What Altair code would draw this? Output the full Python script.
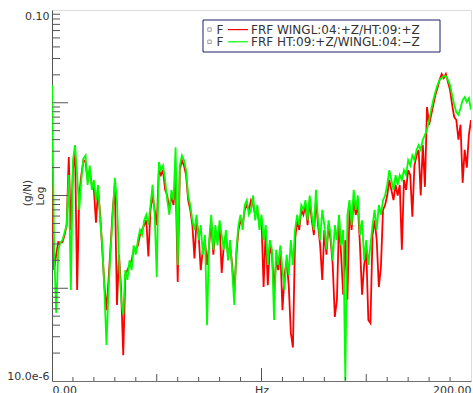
import altair as alt
import pandas as pd

# Frequency axis (Hz), 1 Hz resolution
freq_hz = list(range(0, 201))

# FRF magnitude (g/N): WINGL:04:+Z / HT:09:+Z
frf_wingl_ht = [
    1.3e-3, 1.57e-4, 2.3e-4, 3.15e-4, 3.1e-4, 3.15e-4, 3.75e-4, 4.8e-4, 2.6e-3, 4.25e-4,
    1.88e-3, 3.1e-3, 9.6e-5, 1.0e-3, 1.66e-3, 2.4e-3, 2.3e-3, 1.47e-3, 1.88e-3, 1.3e-3,
    1.15e-3, 5.1e-4, 1.15e-3, 6.2e-4, 2.6e-4, 1.08e-4, 5.8e-5, 1.23e-4, 2.9e-4, 7.0e-4,
    1.3e-3, 6.6e-5, 2.3e-4, 9.6e-5, 1.9e-5, 1.39e-4, 1.57e-4, 1.78e-4, 2.0e-4, 2.6e-4,
    2.6e-4, 2.9e-4, 3.75e-4, 4.25e-4, 4.8e-4, 5.4e-4, 2.2e-4, 7.0e-4, 1.0e-3, 7.0e-4,
    4.8e-4, 1.88e-3, 1.66e-3, 1.88e-3, 1.15e-3, 1.0e-3, 7.0e-4, 1.0e-3, 7.9e-4, 1.66e-3,
    1.17e-4, 1.88e-3, 2.4e-3, 2.1e-3, 1.66e-3, 8.9e-4, 7.0e-4, 4.8e-4, 2.1e-4, 5.4e-4,
    3.75e-4, 1.57e-4, 2.6e-4, 3.3e-4, 1.78e-4, 2.9e-4, 5.4e-4, 2.3e-4, 4.25e-4, 3.3e-4,
    4.8e-4, 1.46e-4, 2.9e-4, 3.75e-4, 2.3e-4, 2.9e-4, 1.78e-4, 8.9e-5, 2.3e-4, 4.25e-4,
    5.4e-4, 4.8e-4, 7.0e-4, 7.9e-4, 7.0e-4, 8.9e-4, 7.9e-4, 6.2e-4, 7.0e-4, 4.8e-4,
    5.4e-4, 1.03e-4, 4.25e-4, 1.08e-4, 2.9e-4, 2.3e-4, 9.6e-5, 2.0e-4, 1.57e-4, 2.6e-4,
    5.8e-5, 1.39e-4, 2.0e-4, 1.08e-4, 3.3e-5, 2.3e-5, 3.3e-4, 5.4e-4, 4.25e-4, 7.0e-4,
    6.2e-4, 7.9e-4, 4.8e-4, 8.9e-4, 5.4e-4, 3.75e-4, 8.9e-4, 4.8e-4, 2.9e-4, 1.23e-4,
    4.25e-4, 2.3e-4, 4.8e-4, 3.3e-4, 1.78e-4, 4.9e-5, 7.5e-5, 5.4e-4, 2.3e-4, 8.5e-5,
    3.3e-4, 7.5e-5, 7.0e-4, 4.25e-4, 8.9e-4, 6.2e-4, 7.9e-4, 2.9e-4, 8.5e-5, 1.78e-4,
    2.6e-4, 4.55e-5, 4.2e-5, 3.75e-4, 5.4e-4, 3.3e-4, 1.03e-4, 1.69e-4, 7.0e-4, 7.9e-4,
    1.0e-3, 1.47e-3, 1.15e-3, 8.9e-4, 1.3e-3, 1.0e-3, 1.3e-3, 2.6e-4, 1.47e-3, 1.15e-3,
    1.88e-3, 1.66e-3, 5.9e-4, 2.1e-3, 2.7e-3, 3.1e-3, 1.0e-3, 3.5e-3, 1.24e-3, 9.0e-3,
    5.8e-3, 7.4e-3, 9.5e-3, 1.21e-2, 1.44e-2, 1.76e-2, 2.04e-2, 1.85e-2, 2.04e-2, 1.67e-2,
    1.37e-2, 9.5e-3, 7.0e-3, 6.5e-3, 4.0e-3, 5.8e-3, 1.37e-3, 3.1e-3, 2.0e-3, 4.5e-3,
    6.5e-3,
]

# FRF magnitude (g/N): HT:09:+Z / WINGL:04:-Z
frf_ht_wingl = [
    1.55e-2, 2.6e-4, 5.4e-5, 2.6e-4, 3.1e-4, 3.3e-4, 4.0e-4, 4.8e-4, 1.66e-3, 9.6e-5,
    2.4e-3, 3.5e-3, 1.66e-3, 7.0e-4, 1.47e-3, 2.5e-3, 2.7e-3, 1.3e-3, 2.1e-3, 1.15e-3,
    1.47e-3, 8.9e-4, 1.3e-3, 5.4e-4, 2.9e-4, 9.6e-5, 2.45e-5, 9.6e-5, 2.6e-4, 6.2e-4,
    1.55e-3, 8.9e-4, 2.0e-4, 7.5e-5, 5.2e-5, 1.57e-4, 1.23e-4, 2.0e-4, 1.57e-4, 2.9e-4,
    2.3e-4, 3.3e-4, 4.25e-4, 3.75e-4, 5.4e-4, 6.2e-4, 4.8e-4, 7.9e-4, 1.3e-3, 6.2e-4,
    1.32e-4, 2.3e-3, 1.88e-3, 2.1e-3, 1.47e-3, 8.9e-4, 6.2e-4, 1.15e-3, 8.9e-4, 3.3e-3,
    1.78e-4, 2.1e-3, 2.7e-3, 2.4e-3, 1.88e-3, 1.0e-3, 7.9e-4, 5.4e-4, 4.25e-4, 6.2e-4,
    3.3e-4, 4.8e-4, 2.3e-4, 3.75e-4, 4.0e-5, 3.3e-4, 6.2e-4, 2.6e-4, 4.8e-4, 2.9e-4,
    5.4e-4, 3.75e-4, 2.6e-4, 4.25e-4, 2.0e-4, 3.3e-4, 1.57e-4, 6.6e-5, 2.6e-4, 4.8e-4,
    6.2e-4, 4.25e-4, 7.9e-4, 8.9e-4, 6.2e-4, 7.0e-4, 1.0e-3, 5.4e-4, 7.9e-4, 4.25e-4,
    6.2e-4, 3.3e-4, 4.8e-4, 1.78e-4, 3.3e-4, 2.6e-4, 4.55e-5, 2.6e-4, 1.78e-4, 2.9e-4,
    1.57e-4, 9.6e-5, 2.3e-4, 1.39e-4, 3.3e-4, 1.78e-4, 4.25e-4, 6.2e-4, 4.8e-4, 7.9e-4,
    7.0e-4, 8.9e-4, 5.4e-4, 1.0e-3, 6.2e-4, 4.25e-4, 1.15e-3, 5.4e-4, 3.3e-4, 7.0e-4,
    4.8e-4, 2.6e-4, 5.4e-4, 3.75e-4, 2.0e-4, 4.8e-4, 3.3e-4, 6.2e-4, 2.9e-4, 4.25e-4,
    1.02e-5, 6.2e-4, 8.9e-4, 4.8e-4, 1.15e-3, 7.0e-4, 1.0e-3, 3.75e-4, 5.4e-4, 2.0e-4,
    3.3e-4, 1.78e-4, 2.9e-4, 4.8e-4, 7.0e-4, 4.25e-4, 7.9e-4, 6.2e-4, 8.9e-4, 1.0e-3,
    1.3e-3, 1.88e-3, 1.47e-3, 1.15e-3, 1.66e-3, 1.3e-3, 1.66e-3, 1.47e-3, 1.88e-3, 1.66e-3,
    2.4e-3, 2.1e-3, 2.7e-3, 2.4e-3, 3.1e-3, 3.5e-3, 3.1e-3, 4.0e-3, 4.5e-3, 5.1e-3,
    6.5e-3, 8.4e-3, 1.07e-2, 1.31e-2, 1.55e-2, 1.76e-2, 1.85e-2, 1.94e-2, 1.94e-2, 1.76e-2,
    1.55e-2, 1.21e-2, 9.5e-3, 7.9e-3, 7.4e-3, 8.8e-3, 1.07e-2, 1.15e-2, 1.02e-2, 1.12e-2,
    8.4e-3,
]

series_names = ["FRF WINGL:04:+Z/HT:09:+Z", "FRF HT:09:+Z/WINGL:04:\u2212Z"]
series_colors = ["#ff0000", "#00ff00"]

# Axis labels shown at the axis ends (and the unit in the middle of x)
x_label_values = [0, 100, 200]
x_label_texts = ["0.00", "Hz", "200.00"]
y_label_values = [1e-5, 0.1]
y_label_texts = ["10.0e-6", "0.10"]
y_title_lines = ["(g/N)", "Log"]

# Inward tick marks
y_major_ticks = [1e-4, 1e-3, 1e-2]
y_minor_ticks = [m * d for d in (1e-5, 1e-4, 1e-3, 1e-2) for m in range(2, 10)]
x_minor_ticks = [10, 20, 30, 40, 60, 70, 80, 90, 110, 120, 130, 140, 160, 170, 180, 190]
x_mid_ticks = [50, 150]
x_major_ticks = [100]

W, H = 419, 371
FONT = "DejaVu Sans"
TXT = "#333333"

x_expr = " : ".join(
    f"datum.value == {v} ? '{t}'" for v, t in zip(x_label_values[:-1], x_label_texts[:-1])
) + f" : '{x_label_texts[-1]}'"
y_expr = f"datum.value < 0.001 ? '{y_label_texts[0]}' : '{y_label_texts[1]}'"

x_enc = alt.X(
    "hz:Q",
    scale=alt.Scale(domain=[0, 200], nice=False, zero=False),
    axis=alt.Axis(
        values=x_label_values, labelExpr=x_expr, labelFlush=True, ticks=False,
        grid=False, title=None, labelFont=FONT, labelFontSize=11, labelColor=TXT,
        labelPadding=3, domainColor="#6e6e6e",
    ),
)
y_enc = alt.Y(
    "mag:Q",
    scale=alt.Scale(type="log", domain=[1e-5, 0.1], nice=False),
    axis=alt.Axis(
        values=y_label_values, labelExpr=y_expr, labelFlush=True, ticks=False,
        grid=False, title=None,
        labelFont=FONT, labelFontSize=11, labelColor=TXT, labelPadding=3,
        domainColor="#555555",
    ),
)

red_df = pd.DataFrame({"hz": freq_hz, "mag": frf_wingl_ht})
green_df = pd.DataFrame({"hz": freq_hz, "mag": frf_ht_wingl})

red_line = alt.Chart(red_df).mark_line(color=series_colors[0], strokeWidth=1.8, clip=True).encode(
    x=x_enc, y=y_enc
)
green_line = alt.Chart(green_df).mark_line(color=series_colors[1], strokeWidth=1.8, clip=True).encode(
    x=x_enc, y=y_enc
)

tick_color = "#555555"
y_major = alt.Chart(pd.DataFrame({"mag": y_major_ticks})).mark_rule(color=tick_color, strokeWidth=1).encode(
    y=y_enc, x=alt.value(0), x2=alt.value(16)
)
y_minor = alt.Chart(pd.DataFrame({"mag": y_minor_ticks})).mark_rule(color=tick_color, strokeWidth=1).encode(
    y=y_enc, x=alt.value(0), x2=alt.value(8)
)
x_minor = alt.Chart(pd.DataFrame({"hz": x_minor_ticks})).mark_rule(color=tick_color, strokeWidth=1).encode(
    x=x_enc, y=alt.value(H), y2=alt.value(H - 4)
)
x_mid = alt.Chart(pd.DataFrame({"hz": x_mid_ticks})).mark_rule(color=tick_color, strokeWidth=1).encode(
    x=x_enc, y=alt.value(H), y2=alt.value(H - 7)
)
x_major = alt.Chart(pd.DataFrame({"hz": x_major_ticks})).mark_rule(color=tick_color, strokeWidth=1).encode(
    x=x_enc, y=alt.value(H), y2=alt.value(H - 13)
)

# Rotated y-axis title: unit and scale type side by side
title_layers = []
for line, tx, ty in zip(y_title_lines, [-24.5, -11.5], [183, 186]):
    title_layers.append(
        alt.Chart(pd.DataFrame({"t": [line]})).mark_text(
            angle=270, align="center", baseline="middle", font=FONT, fontSize=10.5, color=TXT
        ).encode(x=alt.value(tx), y=alt.value(ty), text="t:N")
    )

# Legend box in the upper right of the plot
one = pd.DataFrame({"k": [0]})
legend_box = alt.Chart(one).mark_rect(fill="white", stroke="#1f1f6b", strokeWidth=1).encode(
    x=alt.value(151), x2=alt.value(388), y=alt.value(10), y2=alt.value(42)
)
legend_layers = [legend_box]
row_y = [19.6, 31.8]
for name, color, ry in zip(series_names, series_colors, row_y):
    d = pd.DataFrame({"label": [name]})
    legend_layers.append(
        alt.Chart(d).mark_point(shape="square", size=12, filled=False, color="#555555", strokeWidth=0.8).encode(
            x=alt.value(157.5), y=alt.value(ry)
        )
    )
    legend_layers.append(
        alt.Chart(d).mark_text(align="left", baseline="middle", font=FONT, fontSize=12, color=TXT).encode(
            x=alt.value(164.5), y=alt.value(ry), text=alt.value("F")
        )
    )
    legend_layers.append(
        alt.Chart(d).mark_rule(color=color, strokeWidth=1.2).encode(
            x=alt.value(176), x2=alt.value(196), y=alt.value(ry)
        )
    )
    legend_layers.append(
        alt.Chart(d).mark_text(align="left", baseline="middle", font=FONT, fontSize=12, color=TXT).encode(
            x=alt.value(199), y=alt.value(ry), text="label:N"
        )
    )

chart = alt.layer(
    red_line, green_line, y_major, y_minor, x_minor, x_mid, x_major, *title_layers, *legend_layers
).properties(
    width=W, height=H,
    autosize=alt.AutoSizeParams(type="none"),
    padding={"left": 52, "top": 10, "right": 2, "bottom": 12},
).configure_view(
    stroke="#8c8c8c", strokeWidth=1
).configure(background="white")

chart.save("out.html", embed_options={"renderer": "svg", "actions": False})
